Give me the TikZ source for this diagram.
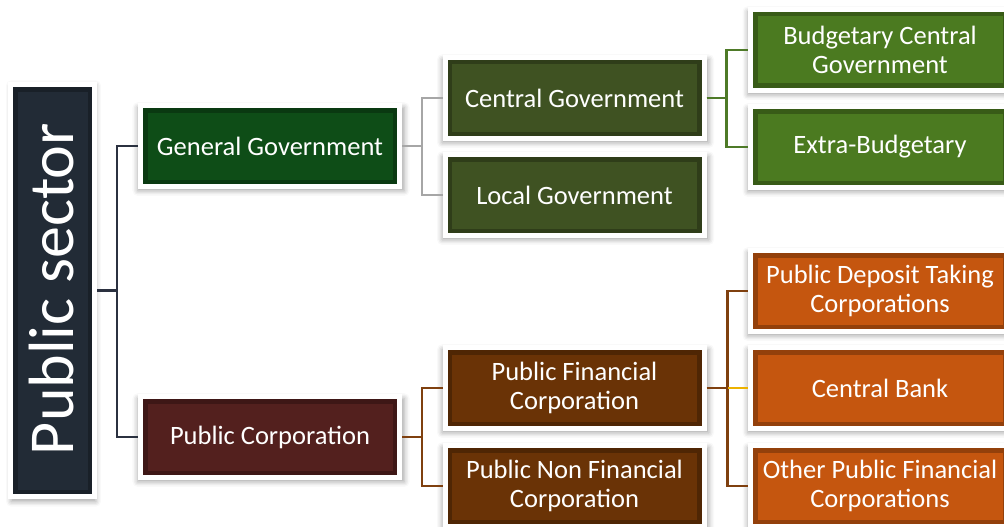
\documentclass[tikz,border=0pt]{standalone}
\usepackage{fontspec}
\setmainfont{Carlito}
\usepackage{tikz}
\usetikzlibrary{shadows, shadows.blur, positioning}

\definecolor{psfill}{HTML}{222B36}
\definecolor{ggfill}{HTML}{0E4D17}
\definecolor{cgfill}{HTML}{3F5222}
\definecolor{bgfill}{HTML}{4B7A20}
\definecolor{pcfill}{HTML}{53201E}
\definecolor{pffill}{HTML}{6A3306}
\definecolor{orfill}{HTML}{C5560F}
\definecolor{pslink}{HTML}{2B3140}
\definecolor{graylink}{HTML}{A6A6A6}
\definecolor{greenlink}{HTML}{4E7A28}
\definecolor{brownlink}{HTML}{7F400F}
\definecolor{goldlink}{HTML}{EDB200}

\begin{document}
\begin{tikzpicture}[
    x=1pt, y=-1pt,
    box/.style={rectangle, draw=white, line width=5pt, text=white, minimum width=259pt, minimum height=81pt, inner sep=0pt, align=center, font=\fontsize{26.5}{29}\selectfont,
        blur shadow={shadow xshift=1pt, shadow yshift=-3pt, shadow scale=1.03, shadow blur radius=5pt, shadow opacity=35},
        path picture={\draw[black, opacity=0.25, line width=14pt] (path picture bounding box.south west) rectangle (path picture bounding box.north east);}},
    link/.style={line width=2.5pt}
]
\useasboundingbox (0,0) rectangle (1004,527);
\clip (0,0) rectangle (1004,527);

% Nodes
\node[box, fill=psfill, minimum width=84pt, minimum height=412pt, shadow scale=1.01] (ps) at (52.5,290.5) {};
\node[text=white, rotate=90, font=\fontsize{64}{70}\selectfont] (pstext) at (52,289) {Public sector};
\node[box, fill=ggfill] (gg) at (270,146) {General Government};
\node[box, fill=pcfill] (pc) at (270,437) {Public Corporation};
\node[box, fill=cgfill] (cg) at (574.5,98) {Central Government};
\node[box, fill=cgfill] (lg) at (574.5,195) {Local Government};
\node[box, fill=pffill] (pfc) at (574.5,388) {Public Financial\\Corporation};
\node[box, fill=pffill] (pnfc) at (574.5,486) {Public Non Financial\\Corporation};
\node[box, fill=bgfill] (bcg) at (880,50) {Budgetary Central\\Government};
\node[box, fill=bgfill] (eb) at (880,147) {Extra-Budgetary};
\node[box, fill=orfill] (pdtc) at (880,291) {Public Deposit Taking\\Corporations};
\node[box, fill=orfill] (cb) at (880,388) {Central Bank};
\node[box, fill=orfill] (opfc) at (880,486) {Other Public Financial\\Corporations};

% Paths
\draw[link, pslink] (ps.east) -- ++(20,0) |- (gg.west);
\draw[link, pslink] (ps.east) -- ++(20,0) |- (pc.west);
\draw[link, graylink] (gg.east) -- ++(20,0) |- (cg.west);
\draw[link, graylink] (gg.east) -- ++(20,0) |- (lg.west);
\draw[link, greenlink] (cg.east) -- ++(20,0) |- (bcg.west);
\draw[link, greenlink] (cg.east) -- ++(20,0) |- (eb.west);
\draw[link, brownlink] (pc.east) -- ++(20,0) |- (pfc.west);
\draw[link, brownlink] (pc.east) -- ++(20,0) |- (pnfc.west);
\draw[link, brownlink] (pfc.east) -- ++(21,0) coordinate (pfj) |- (pdtc.west);
\draw[link, brownlink] (pfj) |- (opfc.west);
\draw[link, goldlink] (pfj) -- (cb.west);

\end{tikzpicture}
\end{document}
